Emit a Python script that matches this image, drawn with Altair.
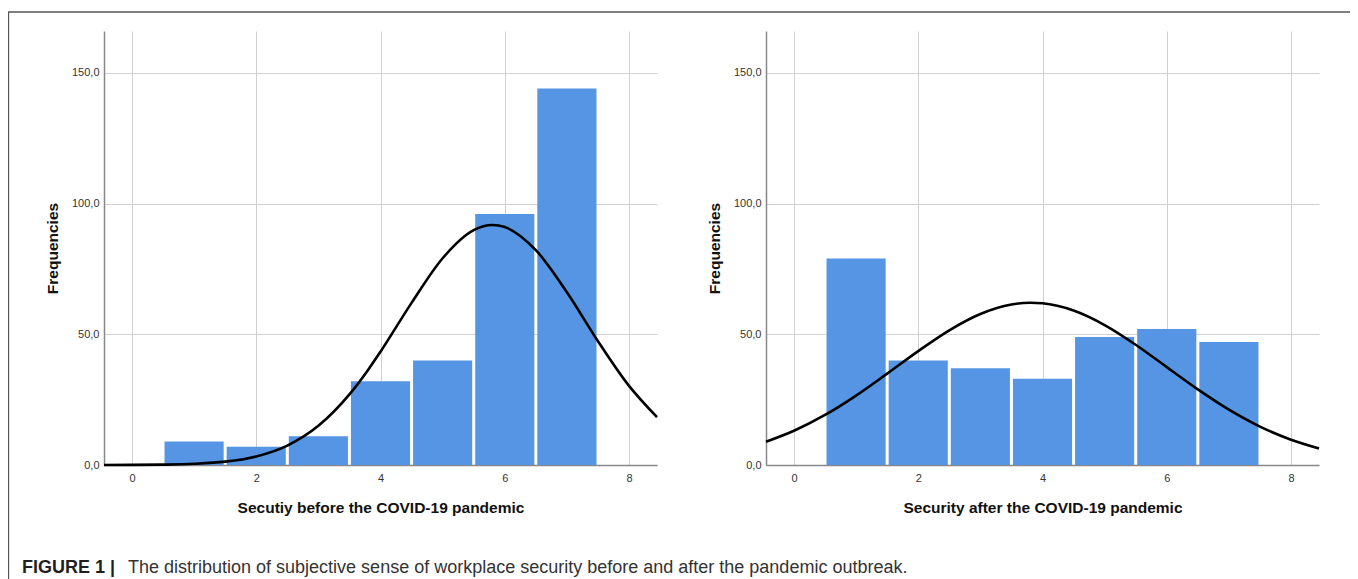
import altair as alt
import pandas as pd

# ---- data ----
bin_centers = [1, 2, 3, 4, 5, 6, 7]
before_counts = [9, 7, 11, 32, 40, 96, 144]
after_counts = [79, 40, 37, 33, 49, 52, 47]

curve_x = [-0.45, 0, 0.5, 1, 1.5, 2, 2.5, 3, 3.5, 3.8, 4, 4.5, 5, 5.5, 5.8, 6, 6.5, 7, 7.5, 8, 8.45]
before_curve = [0.01, 0.04, 0.14, 0.45, 1.28, 3.26, 7.41, 14.98, 26.99, 36.36, 43.34, 62.02, 79.09,
                89.87, 91.82, 91.02, 82.15, 66.08, 47.35, 30.25, 18.31]
after_curve = [8.88, 13.08, 19.14, 26.56, 34.94, 43.57, 51.52, 57.76, 61.39, 62.07, 61.86, 59.10,
               53.54, 45.98, 40.90, 37.44, 28.90, 21.15, 14.68, 9.66, 6.33]

x_ticks = [0, 2, 4, 6, 8]
y_ticks = [0, 50, 100, 150]
x_titles = ["Secutiy before the COVID-19 pandemic", "Security after the COVID-19 pandemic"]
y_title = "Frequencies"
caption_bold = "FIGURE 1 |"
caption_text = "The distribution of subjective sense of workplace security before and after the pandemic outbreak."

FONT = "Liberation Sans"
W, H = 553, 434


def panel(counts, curve_vals, xtitle, extras=None):
    bars_df = pd.DataFrame({
        "lo": [c - 0.5 for c in bin_centers],
        "hi": [c + 0.5 for c in bin_centers],
        "base": [0] * len(bin_centers),
        "count": counts,
    })
    curve_df = pd.DataFrame({"x": curve_x, "y": curve_vals})
    xscale = alt.Scale(domain=[-0.45, 8.45], nice=False, zero=False)
    yscale = alt.Scale(domain=[0, 166], nice=False)
    xaxis = alt.Axis(
        title=xtitle, values=x_ticks, format="d", grid=True, ticks=False,
        labelPadding=13, labelBaseline="middle", labelFontSize=11, labelColor="#333333",
        titleX=W / 2, titleY=42, titleAlign="center", titleBaseline="middle",
        titleFontSize=15.5, titleFontWeight="bold", titleColor="#111111",
    )
    yaxis = alt.Axis(
        title=y_title, values=y_ticks, grid=True, ticks=False,
        labelExpr="replace(format(datum.value, '.1f'), '.', ',')",
        labelPadding=5, labelFontSize=11, labelColor="#333333",
        titleX=-52, titleY=H / 2, titleAngle=270, titleAlign="center", titleBaseline="middle",
        titleFontSize=15.5, titleFontWeight="bold", titleColor="#111111",
    )
    bars = alt.Chart(bars_df).mark_bar(color="#5595E3", xOffset=1.5, x2Offset=-1.5).encode(
        x=alt.X("lo:Q", scale=xscale, axis=xaxis),
        x2="hi:Q",
        y=alt.Y("count:Q", scale=yscale, axis=yaxis),
        y2="base:Q",
    )
    curve = alt.Chart(curve_df).mark_line(color="black", strokeWidth=2.6, interpolate="monotone").encode(
        x=alt.X("x:Q", scale=xscale, axis=xaxis),
        y=alt.Y("y:Q", scale=yscale, axis=yaxis),
    )
    layers = [bars, curve] + (extras or [])
    return alt.layer(*layers).properties(width=W, height=H)


one = alt.Data(values=[{"k": 1}])
frame = alt.Chart(one).mark_rect(fillOpacity=0, stroke="#555555", strokeWidth=1.3).encode(
    x=alt.value(-95.5), x2=alt.value(1248), y=alt.value(-19), y2=alt.value(590)
)
cap1 = alt.Chart(one).mark_text(
    text=caption_bold, font=FONT, fontSize=18, fontWeight="bold", align="left",
    baseline="alphabetic", color="#231f20",
).encode(x=alt.value(-82), y=alt.value(542))
cap2 = alt.Chart(one).mark_text(
    text=caption_text, font=FONT, fontSize=18, align="left",
    baseline="alphabetic", color="#333333",
).encode(x=alt.value(24), y=alt.value(542))

left = panel(before_counts, before_curve, x_titles[0], [frame, cap1, cap2])
right = panel(after_counts, after_curve, x_titles[1])

chart = alt.hconcat(left, right, spacing=109, bounds="flush").properties(
    autosize=alt.AutoSizeParams(type="none"),
    padding={"left": 96, "top": 23, "right": 1246, "bottom": 567},
).configure(font=FONT).configure_view(strokeWidth=0).configure_axis(
    gridColor="#d0d0d0", gridWidth=1, domainColor="#888888", domainWidth=1.5,
    labelFont=FONT, titleFont=FONT,
)

chart.save("out.html", embed_options={"renderer": "svg", "actions": False})
